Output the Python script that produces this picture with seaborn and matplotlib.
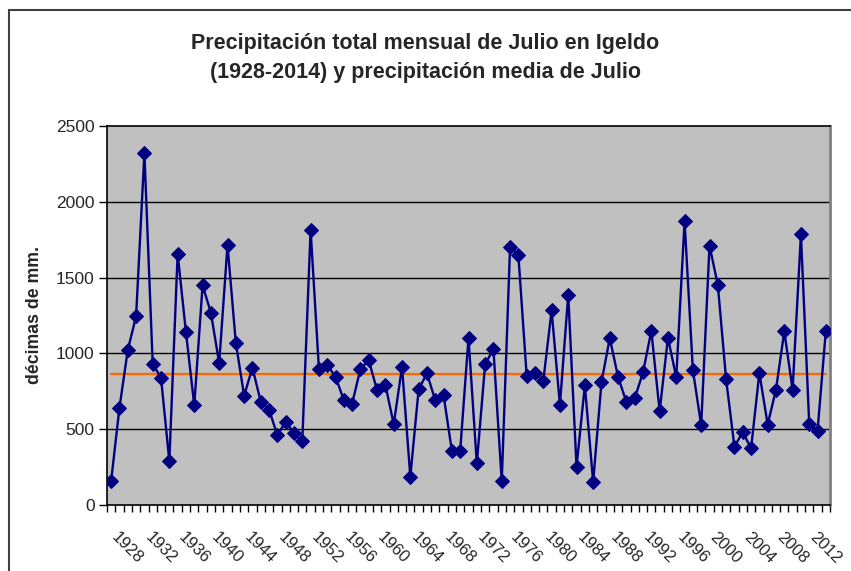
import numpy as np
import pandas as pd
import matplotlib
matplotlib.use('Agg')
import matplotlib.pyplot as plt
import seaborn as sns
from matplotlib.patches import Rectangle
from matplotlib.ticker import FixedLocator

sns.set_style('white')
plt.rcParams['font.family'] = ['Liberation Sans', 'DejaVu Sans']

# precipitacion de julio (decimas de mm), 1928-2014
anios = list(range(1928, 2015))
precip = [160, 642, 1022, 1245, 2320, 930, 840, 288, 1658, 1141,
          657, 1449, 1269, 935, 1715, 1071, 721, 906, 681, 629,
          461, 550, 474, 423, 1816, 899, 923, 846, 691, 669,
          899, 954, 757, 792, 533, 910, 186, 763, 868, 691,
          724, 357, 357, 1103, 274, 928, 1029, 156, 1702, 1649,
          853, 871, 818, 1283, 660, 1386, 252, 789, 151, 809,
          1101, 844, 680, 704, 875, 1149, 618, 1103, 842, 1873,
          890, 526, 1711, 1452, 829, 384, 482, 373, 871, 531,
          761, 1145, 761, 1785, 537, 489, 1149]
media = 866
etiquetas = list(range(1928, 2013, 4))

df = pd.DataFrame({'anio': anios, 'precip': precip, 'media': [media] * len(anios)})

fig = plt.figure(figsize=(8.51, 5.71), dpi=100)
ax = fig.add_axes([107 / 851, 1 - 505 / 571, (830 - 107) / 851, (505 - 126) / 571])
ax.set_facecolor('#C0C0C0')

for y in [500, 1000, 1500, 2000]:
    ax.axhline(y, color='black', lw=1, zorder=1)

sns.lineplot(data=df, x='anio', y='media', ax=ax, color='#FF6600', lw=1.6, zorder=2)
sns.lineplot(data=df, x='anio', y='precip', ax=ax, color='#000080', lw=1.7,
             marker='D', markersize=7, markeredgecolor='#000080', zorder=3)

ax.set_xlim(1927.5, 2014.5)
ax.set_ylim(0, 2500)
ax.set_yticks(range(0, 2501, 500))
ax.set_xticks(etiquetas)
ax.set_xticklabels([str(e) for e in etiquetas], rotation=-45, ha='left', va='baseline',
                   rotation_mode='anchor', fontsize=12)
ax.xaxis.set_minor_locator(FixedLocator(np.arange(1927.5, 2015, 1)))
ax.tick_params(axis='x', which='major', length=0, pad=24)
ax.tick_params(axis='x', which='minor', length=5, width=1, color='black', direction='out')
ax.tick_params(axis='y', length=6, width=1, color='black', direction='out', labelsize=12.5, pad=3)
ax.tick_params(bottom=True, left=True, which='both')

ax.set_xlabel('')
ax.set_ylabel('décimas de mm.', fontsize=12.7, fontweight='bold', labelpad=9)

for s in ['left', 'bottom', 'top']:
    ax.spines[s].set_color('black')
    ax.spines[s].set_linewidth(1.2)
ax.spines['right'].set_color('#808080')
ax.spines['right'].set_linewidth(2)

fig.text(0.5, 1 - 44 / 571, 'Precipitación total mensual de Julio en Igeldo',
         ha='center', va='center', fontsize=15.5, fontweight='bold')
fig.text(0.5, 1 - 72 / 571, '(1928-2014) y precipitación media de Julio',
         ha='center', va='center', fontsize=15.5, fontweight='bold')

fig.patches.append(Rectangle((9 / 851, -0.1), 1.2, 1.1 - 10 / 571, transform=fig.transFigure,
                             fill=False, edgecolor='#404040', lw=1.5))

fig.savefig('out.png', dpi=100)
